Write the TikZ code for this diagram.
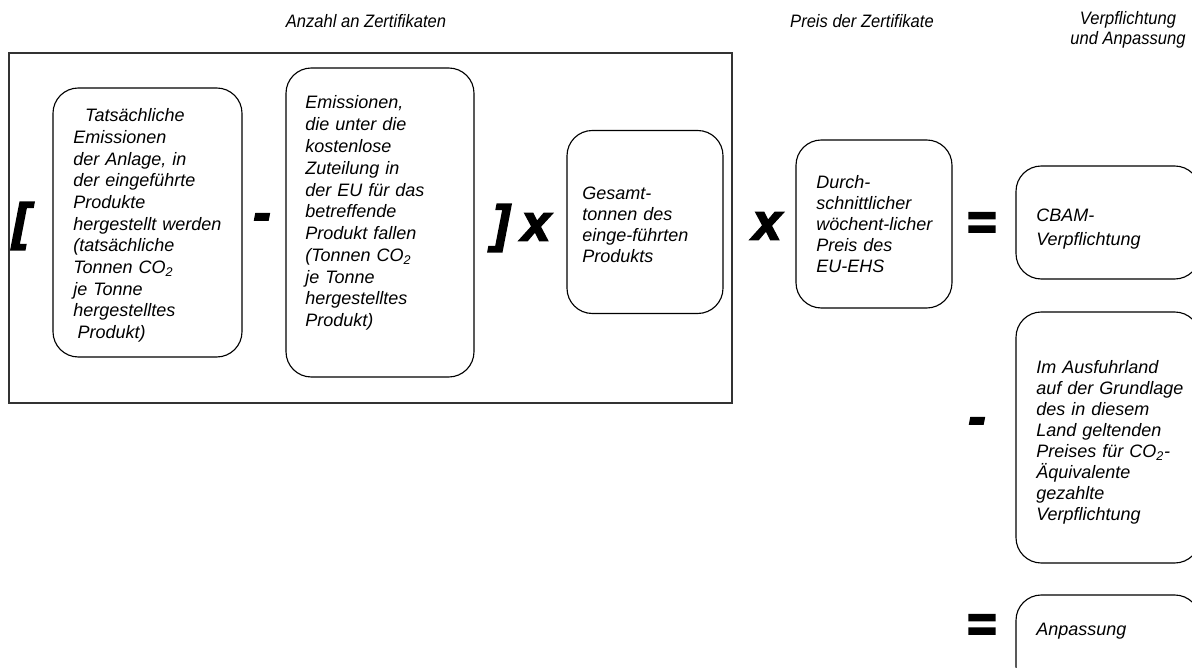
\documentclass[tikz,border=0pt]{standalone}
\usepackage{fontspec}
\setmainfont{Liberation Sans}
\newfontfamily\opfont{Liberation Sans}[FakeBold=4]
\def\px{0.025cm}

\begin{document}
\begin{tikzpicture}[x=0.025cm,y=-0.025cm,
  termbox/.style={draw, line width=0.8pt, rounded corners=18pt, inner sep=0pt},
  termtext/.style={anchor=north west, inner sep=0pt, align=left},
  op/.style={inner sep=0pt, font=\opfont\bfseries\itshape\fontsize{36}{36}\selectfont},
  head/.style={inner sep=0pt, align=center, font=\itshape\fontsize{12.8}{14.2}\selectfont}]

\useasboundingbox (0,0) rectangle (1192,668);
\clip (0,0) rectangle (1192,668);

%headings
\node[head] (hanzahl) at (366,21) {\scalebox{0.92}[1]{Anzahl an Zertifikaten}};
\node[head] (hpreis) at (862,21) {\scalebox{0.92}[1]{Preis der Zertifikate}};
\node[head] (hverpfl) at (1128,30) {\scalebox{0.92}[1]{Verpflichtung}\\\scalebox{0.92}[1]{und Anpassung}};

%frame round the number of certificates
\draw[line width=1pt, draw=black!80] (9,53) rectangle (732,403);

%boxes
\node[termbox, minimum width=189*\px, minimum height=269*\px] (ist) at (147.5,222.5) {};
\node[termbox, minimum width=188*\px, minimum height=309*\px] (frei) at (380,222.5) {};
\node[termbox, minimum width=156*\px, minimum height=183*\px] (menge) at (645,222) {};
\node[termbox, minimum width=156*\px, minimum height=168*\px] (preis) at (874,224) {};
\node[termbox, minimum width=184*\px, minimum height=113*\px] (cbam) at (1108,222.5) {};
\node[termbox, minimum width=184*\px, minimum height=251*\px] (ausfuhr) at (1108,437.5) {};
\node[termbox, minimum width=184*\px, minimum height=97*\px] (anpass) at (1108,643.5) {};

%texts
\node[termtext, text width=160*\px, font=\itshape\fontsize{12.8}{15.4}\selectfont] (isttxt) at (73,108.5)
  {\hspace*{8.5pt}Tatsächliche\\Emissionen\\der Anlage, in\\der eingeführte\\Produkte\\hergestellt werden\\(tatsächliche\\Tonnen CO\textsubscript{2}\\je Tonne\\hergestelltes\\\hspace*{3pt}Produkt)};
\node[termtext, text width=160*\px, font=\itshape\fontsize{12.8}{15.5}\selectfont] (freitxt) at (305,95.5)
  {Emissionen,\\die unter die\\kostenlose\\Zuteilung in\\der EU für das\\betreffende\\Produkt fallen\\(Tonnen CO\textsubscript{2}\\je Tonne\\hergestelltes\\Produkt)};
\node[termtext, text width=140*\px, font=\itshape\fontsize{12.8}{14.9}\selectfont] (mengetxt) at (582,186.5)
  {Gesamt-\\tonnen des\\einge-führten\\Produkts};
\node[termtext, text width=135*\px, font=\itshape\fontsize{12.8}{14.9}\selectfont] (preistxt) at (816,175.5)
  {Durch-\\schnittlicher\\wöchent-licher\\Preis des\\EU-EHS};
\node[termtext, text width=150*\px, font=\itshape\fontsize{12.8}{17}\selectfont] (cbamtxt) at (1036,208.5)
  {CBAM-\\Verpflichtung};
\node[termtext, text width=155*\px, font=\itshape\fontsize{12.8}{14.9}\selectfont] (ausfuhrtxt) at (1036,360.5)
  {Im Ausfuhrland\\auf der Grundlage\\des in diesem\\Land geltenden\\Preises für CO\textsubscript{2}-\\Äquivalente\\gezahlte\\Verpflichtung};
\node[termtext, text width=150*\px, font=\itshape\fontsize{12.8}{15}\selectfont] (anpasstxt) at (1036,623)
  {Anpassung};

%operators
\node[op] (klauf) at (21,226) {[};
\node[op] (minus) at (262,222) {-};
\node[op] (klzu) at (501,228) {]};
\node[op] (mal) at (536,227) {x};
\node[op] (malb) at (767,226) {x};
\node[op] (gleich) at (981,226) {=};
\node[op] (minusb) at (977,426) {-};
\node[op] (gleichb) at (981,628) {=};

\end{tikzpicture}
\end{document}
